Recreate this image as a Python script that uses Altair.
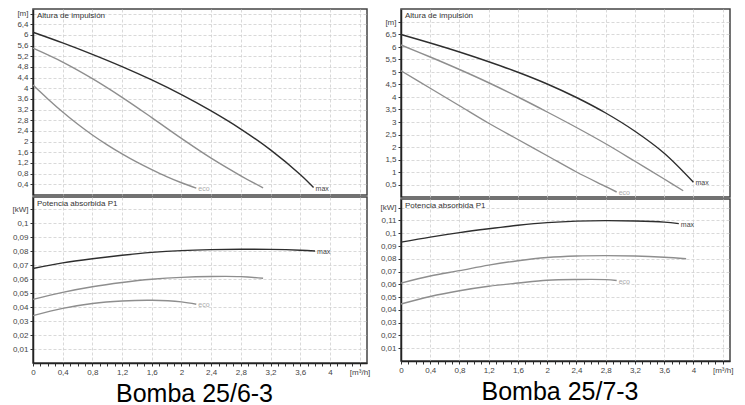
import altair as alt
import pandas as pd

FONT = "Liberation Sans"
SERIES = ["max", "mid", "eco"]
COLORS = ["#2e2e2e", "#8e8e8e", "#8e8e8e"]

# ---------------- Bomba 25/6-3 ----------------
A_HEAD_Q = [
    [0, 0.4, 0.8, 1.2, 1.6, 2.0, 2.4, 2.8, 3.2, 3.6, 3.78],
    [0, 0.4, 0.8, 1.2, 1.6, 2.0, 2.4, 2.8, 3.1],
    [0, 0.2, 0.4, 0.6, 0.8, 1.0, 1.2, 1.4, 1.6, 1.8, 2.0, 2.2],
]
A_HEAD_V = [
    [6.1, 5.7, 5.27, 4.81, 4.31, 3.76, 3.15, 2.47, 1.69, 0.77, 0.28],
    [5.5, 4.98, 4.36, 3.66, 2.9, 2.12, 1.38, 0.72, 0.27],
    [4.12, 3.6, 3.11, 2.66, 2.25, 1.88, 1.54, 1.23, 0.95, 0.69, 0.46, 0.26],
]
A_POW_Q = [
    [0, 0.4, 0.8, 1.2, 1.6, 2.0, 2.4, 2.8, 3.2, 3.6, 3.8],
    [0, 0.4, 0.8, 1.2, 1.6, 2.0, 2.4, 2.8, 3.1],
    [0, 0.4, 0.8, 1.2, 1.6, 2.0, 2.2],
]
A_POW_V = [
    [0.0675, 0.0715, 0.0745, 0.077, 0.079, 0.0803, 0.081, 0.0813, 0.0812, 0.0806, 0.0800],
    [0.0455, 0.0505, 0.0545, 0.0575, 0.0598, 0.0612, 0.0618, 0.0617, 0.0605],
    [0.0338, 0.039, 0.0425, 0.0443, 0.0448, 0.0437, 0.042],
]
A_HEAD_TICKS = [round(0.4 * i, 1) for i in range(1, 18)]   # 0,4 ... 6,4 + unit slot
A_POW_TICKS = [round(0.01 * i, 2) for i in range(1, 12)]   # 0,01 ... 0,1 + unit slot

# ---------------- Bomba 25/7-3 ----------------
B_HEAD_Q = [
    [0, 0.4, 0.8, 1.2, 1.6, 2.0, 2.4, 2.8, 3.2, 3.6, 4.0],
    [0, 0.4, 0.8, 1.2, 1.6, 2.0, 2.4, 2.8, 3.2, 3.6, 3.86],
    [0, 0.4, 0.8, 1.2, 1.6, 2.0, 2.4, 2.8, 2.95],
]
B_HEAD_V = [
    [6.5, 6.16, 5.8, 5.41, 4.99, 4.52, 3.98, 3.36, 2.63, 1.75, 0.59],
    [6.08, 5.6, 5.1, 4.57, 4.0, 3.4, 2.78, 2.13, 1.43, 0.72, 0.25],
    [5.05, 4.35, 3.65, 2.95, 2.3, 1.65, 1.0, 0.42, 0.2],
]
B_POW_Q = [
    [0, 0.4, 0.8, 1.2, 1.6, 2.0, 2.4, 2.8, 3.2, 3.6, 3.8],
    [0, 0.4, 0.8, 1.2, 1.6, 2.0, 2.4, 2.8, 3.2, 3.6, 3.9],
    [0, 0.4, 0.8, 1.2, 1.6, 2.0, 2.4, 2.8, 2.95],
]
B_POW_V = [
    [0.093, 0.097, 0.1005, 0.1035, 0.1062, 0.1083, 0.1095, 0.1099, 0.1096, 0.1087, 0.1075],
    [0.061, 0.0665, 0.0707, 0.075, 0.0785, 0.081, 0.0822, 0.0825, 0.0822, 0.0812, 0.080],
    [0.0446, 0.0505, 0.055, 0.0585, 0.061, 0.0632, 0.0638, 0.0637, 0.063],
]
B_HEAD_TICKS = [round(0.5 * i, 1) for i in range(1, 15)]   # 0,5 ... 6,5 + unit slot
B_POW_TICKS = [round(0.01 * i, 2) for i in range(1, 13)]   # 0,01 ... 0,11 + unit slot

X_TICKS = [round(0.1 * i, 1) for i in range(0, 45)]        # minor ticks 0 ... 4,4
X_GRID = [round(0.4 * i, 1) for i in range(0, 12)]

CAPTIONS = ["Bomba 25/6-3", "Bomba 25/7-3"]
HEAD_TITLE = "Altura de impulsión"
POW_TITLE = "Potencia absorbida P1"


def long_df(qs, vs):
    rows = []
    for s, q, v in zip(SERIES, qs, vs):
        for a, b in zip(q, v):
            rows.append({"q": a, "v": b, "s": s})
    return pd.DataFrame(rows)


def end_df(qs, vs):
    rows = []
    for s, q, v in zip(SERIES, qs, vs):
        if s != "mid":
            rows.append({"q": q[-1], "v": v[-1], "s": s})
    return pd.DataFrame(rows)


def comma(expr):
    return f"replace(format({expr}, '~g'), '.', ',')"


def y_axis(ticks, unit):
    top = ticks[-1]
    return alt.Axis(
        values=ticks,
        labelExpr=f"datum.value > {top - 1e-6} ? '{unit}' : " + comma("datum.value"),
        title=None, grid=True, labelOverlap=False, labelFlush=False,
    )


def x_axis_head():
    return alt.Axis(values=X_GRID, labels=False, ticks=False, domain=False,
                    grid=True, title=None)


def x_axis_pow(caption, width):
    return alt.Axis(
        values=X_TICKS,
        labelExpr="round(datum.value * 10) % 4 == 0 ? (datum.value > 4.3 ? '[m³/h]' : "
        + comma("datum.value") + ") : ''",
        labelOverlap=False, labelFlush=False, grid=True,
        gridOpacity={"condition": {"test": "round(datum.value * 10) % 4 == 0", "value": 1},
                     "value": 0},
        title=caption, titleFont=FONT, titleFontSize=25, titleFontWeight="normal",
        titleColor="#000000", titleX=width / 2 - 6, titleY=38,
        titleAlign="center", titleBaseline="alphabetic",
    )


def panel(qs, vs, ticks, ydom, unit, title, width, height, xaxis):
    x = alt.X("q:Q", scale=alt.Scale(domain=[0, 4.5], nice=False, zero=False), axis=xaxis)
    y = alt.Y("v:Q", scale=alt.Scale(domain=ydom, nice=False, zero=False), axis=y_axis(ticks, unit))
    lines = alt.Chart(long_df(qs, vs)).mark_line(interpolate="catmull-rom", strokeWidth=1.4).encode(
        x=x, y=y,
        color=alt.Color("s:N", scale=alt.Scale(domain=SERIES, range=COLORS), legend=None),
        detail="s:N",
    )
    labels = alt.Chart(end_df(qs, vs)).mark_text(
        align="left", baseline="middle", dx=2, dy=1, fontSize=7, font=FONT
    ).encode(
        x=x, y=y, text="s:N",
        color=alt.condition("datum.s == 'max'", alt.value("#444444"), alt.value("#aaaaaa")),
    )
    ttl = alt.Chart(pd.DataFrame({"t": [title]})).mark_text(
        align="left", baseline="middle", fontSize=8, font=FONT, color="#333333"
    ).encode(x=alt.value(4), y=alt.value(7), text="t:N")
    return alt.layer(lines, labels, ttl).properties(width=width, height=height)


def pump(hq, hv, pq, pv, hticks, pticks, hdom, pdom, w, hh, ph, caption):
    head = panel(hq, hv, hticks, hdom, "[m]", HEAD_TITLE, w, hh, x_axis_head())
    power = panel(pq, pv, pticks, pdom, "[kW]", POW_TITLE, w, ph, x_axis_pow(caption, w))
    return alt.vconcat(head, power, spacing=0)


left = pump(A_HEAD_Q, A_HEAD_V, A_POW_Q, A_POW_V, A_HEAD_TICKS, A_POW_TICKS,
            [0, 6.97], [0, 0.1186], 334, 186, 166, CAPTIONS[0])
right = pump(B_HEAD_Q, B_HEAD_V, B_POW_Q, B_POW_V, B_HEAD_TICKS, B_POW_TICKS,
             [0, 7.52], [0, 0.1268], 329, 188, 162, CAPTIONS[1])

chart = alt.hconcat(left, right, spacing=8).properties(
    padding={"left": 3, "top": 0, "right": 0, "bottom": 0}
).configure_view(
    stroke="#444444", strokeWidth=1.5
).configure_axis(
    labelFont=FONT, labelFontSize=8, labelColor="#444444", labelPadding=2,
    tickColor="#333333", tickSize=3, tickWidth=1,
    domainColor="#222222", domainWidth=1.5,
    gridColor="#cfcfcf", gridDash=[3, 2], gridWidth=0.8,
)

chart.save("out.html", embed_options={"renderer": "svg", "actions": False})
